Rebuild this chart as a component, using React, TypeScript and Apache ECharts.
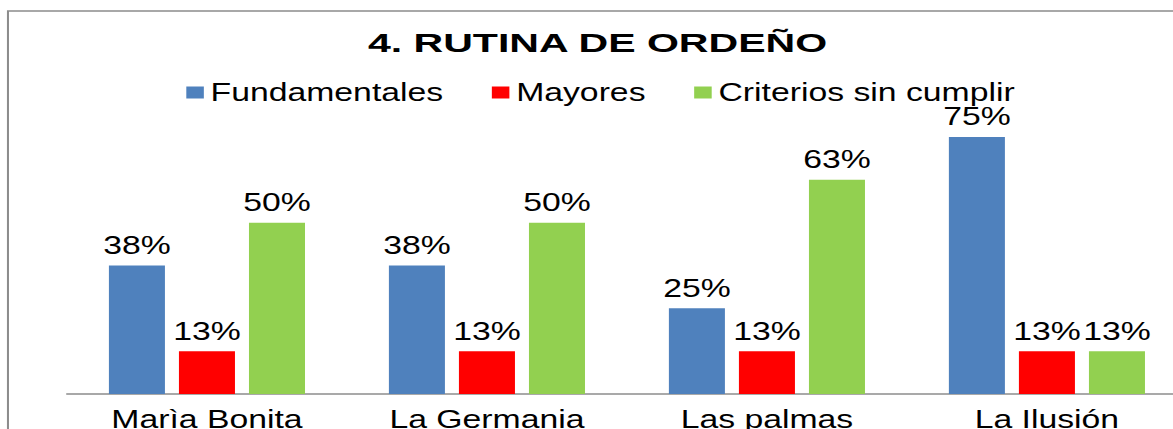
import React, { useEffect, useRef } from "react";
import * as echarts from "echarts";

const categories = ["Marìa Bonita", "La Germania", "Las palmas", "La Ilusión"];
const seriesNames = ["Fundamentales", "Mayores", "Criterios sin cumplir"];
const fundamentales = [37.5, 37.5, 25, 75];
const mayores = [12.5, 12.5, 12.5, 12.5];
const criterios = [50, 50, 62.5, 12.5];
const colors = ["#4F81BD", "#FF0000", "#92D050"];
const titleText = "4. RUTINA DE ORDEÑO";

const SX = 1.35;
const W = 868.5;
const H = 429;
const FONT = "'Liberation Sans', Arial, sans-serif";

export default function App() {
  const ref = useRef<HTMLDivElement>(null);
  useEffect(() => {
    document.body.style.overflow = "hidden";
    const chart = echarts.init(ref.current!, null, { renderer: "svg" });
    const label = {
      show: true,
      position: "top",
      distance: 8,
      fontSize: 25,
      color: "#000",
      fontFamily: FONT,
      formatter: (p: any) => Math.round(p.value) + "%",
    };
    const dataSets = [fundamentales, mayores, criterios];
    chart.setOption({
      animation: false,
      backgroundColor: "#fff",
      legend: {
        data: seriesNames,
        left: 133,
        top: 75,
        itemWidth: 13,
        itemHeight: 12,
        itemGap: 36,
        icon: "rect",
        textStyle: { fontSize: 25, color: "#000", fontFamily: FONT },
      },
      graphic: [
        {
          type: "rect",
          shape: { x: 5.9, y: 11, width: 2000, height: 1000 },
          style: { fill: "none", stroke: "#8c8c8c", lineWidth: 1.5 },
          silent: true,
        },
        {
          type: "text",
          x: 442.6,
          y: 43,
          scaleX: 1.17,
          silent: true,
          style: {
            text: titleText,
            fontSize: 26,
            fontWeight: "bold",
            fill: "#000",
            fontFamily: FONT,
            textAlign: "center",
            textVerticalAlign: "middle",
          },
        },
      ],
      grid: {
        left: 49.6,
        top: 51.3,
        width: 829.6,
        height: 342.7,
        containLabel: false,
        outerBoundsMode: "none",
      },
      xAxis: {
        type: "category",
        data: categories,
        axisLine: { lineStyle: { color: "#8c8c8c", width: 1.5 } },
        axisTick: { show: false },
        axisLabel: { fontSize: 25, color: "#000", fontFamily: FONT, margin: 13 },
      },
      yAxis: {
        type: "value",
        min: 0,
        max: 100,
        show: false,
        splitLine: { show: false },
      },
      series: seriesNames.map((name, i) => ({
        name,
        type: "bar",
        data: dataSets[i],
        barWidth: 41.5,
        barGap: "25%",
        itemStyle: { color: colors[i] },
        label,
      })),
    });
    return () => chart.dispose();
  }, []);
  return (
    <div
      style={{
        position: "absolute",
        left: 0,
        top: 0,
        width: W,
        height: H,
        transform: `scaleX(${SX})`,
        transformOrigin: "0 0",
        overflow: "hidden",
      }}
    >
      <div ref={ref} style={{ width: W, height: H }} />
    </div>
  );
}
